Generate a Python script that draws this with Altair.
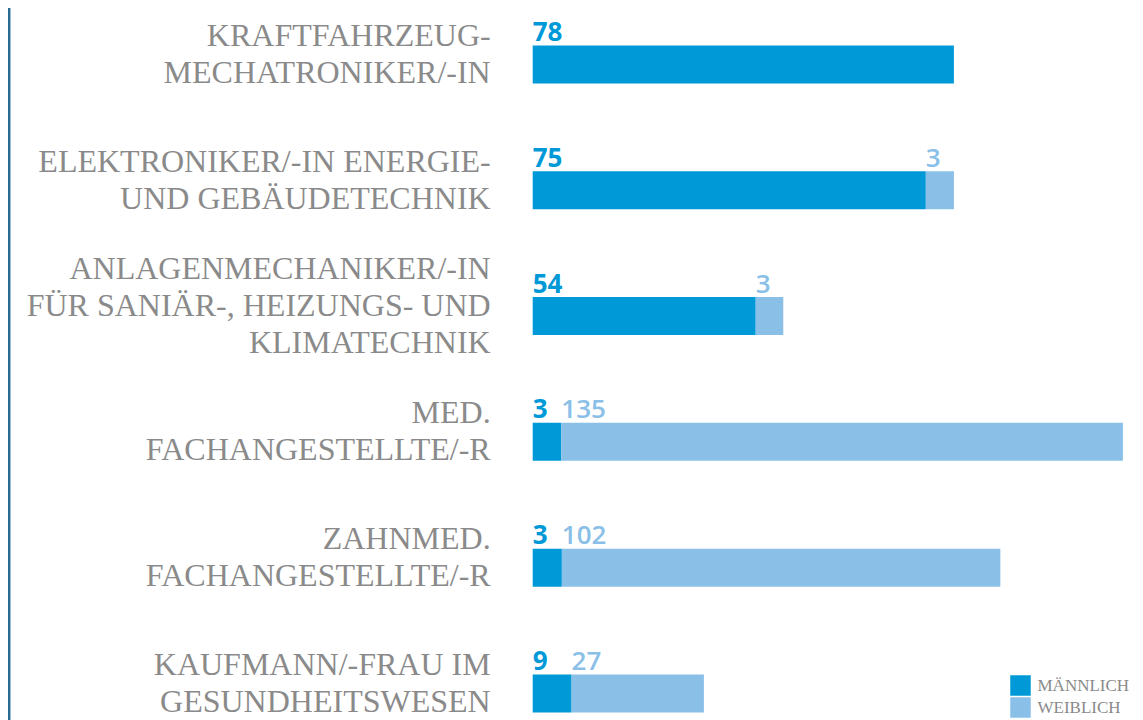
import altair as alt
import pandas as pd

categories = [
    "KRAFTFAHRZEUG-\nMECHATRONIKER/-IN",
    "ELEKTRONIKER/-IN ENERGIE-\nUND GEBÄUDETECHNIK",
    "ANLAGENMECHANIKER/-IN\nFÜR SANIÄR-, HEIZUNGS- UND\nKLIMATECHNIK",
    "MED.\nFACHANGESTELLTE/-R",
    "ZAHNMED.\nFACHANGESTELLTE/-R",
    "KAUFMANN/-FRAU IM\nGESUNDHEITSWESEN",
]
male_values = [78, 75, 54, 3, 3, 9]
female_values = [0, 3, 3, 135, 102, 27]
# bar lengths as drawn in the picture
male_bar = [78, 72.8, 41.3, 5.3, 5.4, 7.2]
female_bar = [0, 5.2, 5.1, 104.0, 81.2, 24.5]
series = ["MÄNNLICH", "WEIBLICH"]
colors = ["#0099d7", "#8abfe8"]

rows = []
for i in range(len(categories)):
    rows.append(dict(row=i, series=series[0], start=0, end=male_bar[i],
                     label=str(male_values[i])))
    if female_values[i] > 0:
        rows.append(dict(row=i, series=series[1], start=male_bar[i],
                         end=male_bar[i] + female_bar[i], label=str(female_values[i])))
bars_df = pd.DataFrame(rows)
cat_df = pd.DataFrame({"row": list(range(len(categories))), "category": categories})

H = 712
y_scale = alt.Scale(domain=[-0.409, 5.171], reverse=True, nice=False, zero=False)
x_scale = alt.Scale(domain=[0, 110], nice=False, zero=True)
y_enc = alt.Y("row:Q", scale=y_scale, axis=None)

bars = alt.Chart(bars_df).mark_bar(orient="horizontal", size=38).encode(
    x=alt.X("start:Q", scale=x_scale, axis=None),
    x2="end:Q",
    y=y_enc,
    color=alt.Color(
        "series:N",
        scale=alt.Scale(domain=series, range=colors),
        legend=alt.Legend(
            title=None, orient="none", legendX=477.3, legendY=667,
            symbolType="square", symbolSize=420, symbolStrokeWidth=0,
            symbolOpacity=1, labelFont="Liberation Serif", labelFontSize=17,
            labelColor="#8a8a8a", rowPadding=1, labelOffset=6.5, padding=0,
        ),
    ),
)

def value_text(name, color, weight):
    return alt.Chart(bars_df).transform_filter(
        alt.datum.series == name
    ).mark_text(
        align="left", baseline="alphabetic", dy=-23.5, font="Open Sans",
        fontSize=26, fontWeight=weight, color=color
    ).encode(
        x=alt.X("start:Q", scale=x_scale, axis=None),
        y=y_enc,
        text="label:N",
    )

male_text = value_text(series[0], colors[0], "bold")
female_text = value_text(series[1], colors[1], 600)

def cat_layer(n_lines, dy):
    return alt.Chart(cat_df).transform_calculate(
        n="length(split(datum.category, '\\n'))"
    ).transform_filter(alt.datum.n == n_lines).mark_text(
        align="right", baseline="middle", dx=-42, dy=dy,
        font="Liberation Serif", fontSize=32, lineHeight=37, lineBreak="\n",
        color="#8a8a8a"
    ).encode(
        x=alt.value(0),
        y=y_enc,
        text="category:N",
    )

cat2 = cat_layer(2, -28.5)
cat3 = cat_layer(3, -47)

edge = alt.Chart(pd.DataFrame({"a": [0]})).mark_rule(
    color="#2a6b93", strokeWidth=2.5
).encode(x=alt.value(-523.5), y=alt.value(0), y2=alt.value(H))

chart = alt.layer(edge, bars, male_text, female_text, cat2, cat3).properties(
    width=594, height=H, autosize="none",
    padding={"left": 524.7, "top": 0, "right": 8.3, "bottom": 0},
).configure_view(stroke=None)

chart.save("out.html", embed_options={"renderer": "svg", "actions": False})
